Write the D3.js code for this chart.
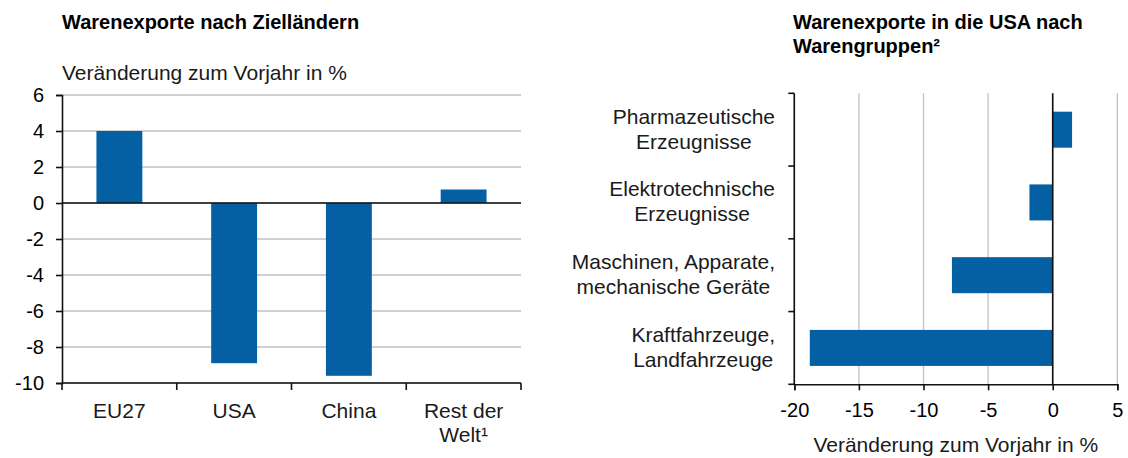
<!DOCTYPE html>
<html>
<head>
<meta charset="utf-8">
<script src="https://cdn.jsdelivr.net/npm/d3@7"></script>
<style>
  body { margin: 0; background: #fff; }
  svg { display: block; font-family: "Liberation Sans", Arial, sans-serif; }
  .title { font-weight: bold; font-size: 20px; fill: #000; }
  .label { font-size: 21px; fill: #1a1a1a; }
  .num { font-size: 20px; fill: #000; }
</style>
</head>
<body>
<div id="chart"></div>
<script>
// left panel: exports by destination
var countries = ['EU27', 'USA', 'China', 'Rest der\nWelt¹'];
var countryChange = [4.0, -8.9, -9.6, 0.75];
var yTicks = [6, 4, 2, 0, -2, -4, -6, -8, -10];

// right panel: exports to the USA by product group
var groups = ['Pharmazeutische\nErzeugnisse', 'Elektrotechnische\nErzeugnisse',
    'Maschinen, Apparate,\nmechanische Geräte', 'Kraftfahrzeuge,\nLandfahrzeuge'];
var groupChange = [1.5, -1.8, -7.8, -18.8];
var xTicks = [-20, -15, -10, -5, 0, 5];

var barColor = '#0460a3';
var gridColor = '#c0c0c0';
var axisColor = '#111';

var svg = d3.select('#chart').append('svg')
    .attr('width', 1128)
    .attr('height', 458);

// ---------- left chart ----------
var left = svg.append('g');
var x1 = d3.scaleBand().domain(countries).range([62, 521]);
var y1 = d3.scaleLinear().domain([-10, 6]).range([383, 95]);

left.append('text').attr('class', 'title').attr('x', 62).attr('y', 29)
    .text('Warenexporte nach Zielländern');
left.append('text').attr('class', 'label').attr('x', 62).attr('y', 80)
    .text('Veränderung zum Vorjahr in %');

left.selectAll('.grid').data(yTicks).enter().append('line')
    .attr('class', 'grid')
    .attr('x1', x1.range()[0]).attr('x2', x1.range()[1])
    .attr('y1', function(d) { return y1(d); })
    .attr('y2', function(d) { return y1(d); })
    .attr('stroke', gridColor).attr('stroke-width', 1.6);

var bw1 = x1.bandwidth() * 0.4;
left.selectAll('.bar').data(countryChange).enter().append('rect')
    .attr('class', 'bar')
    .attr('x', function(d, i) { return x1(countries[i]) + (x1.bandwidth() - bw1) / 2; })
    .attr('width', bw1)
    .attr('y', function(d) { return y1(Math.max(0, d)); })
    .attr('height', function(d) { return Math.abs(y1(d) - y1(0)); })
    .attr('fill', barColor);

// zero line
left.append('line')
    .attr('x1', x1.range()[0]).attr('x2', x1.range()[1])
    .attr('y1', y1(0)).attr('y2', y1(0))
    .attr('stroke', axisColor).attr('stroke-width', 1.6);

var yAxis1 = left.append('g')
    .attr('transform', 'translate(' + x1.range()[0] + ',0)')
    .call(d3.axisLeft(y1).tickValues(yTicks).tickSize(6).tickPadding(12)
        .tickFormat(function(d) { return String(d); }));
yAxis1.select('.domain').attr('stroke', axisColor).attr('stroke-width', 1.6);
yAxis1.selectAll('.tick line').attr('stroke', axisColor).attr('stroke-width', 1.6);
yAxis1.selectAll('.tick text').attr('class', 'num').attr('font-size', null)
    .attr('font-family', null).attr('fill', '#000');

// bottom axis with ticks on the band edges
left.append('line')
    .attr('x1', x1.range()[0]).attr('x2', x1.range()[1])
    .attr('y1', y1(-10)).attr('y2', y1(-10))
    .attr('stroke', axisColor).attr('stroke-width', 1.6);
var edges1 = countries.map(function(c) { return x1(c); }).concat([x1.range()[1]]);
left.selectAll('.edge').data(edges1).enter().append('line')
    .attr('x1', function(d) { return d; }).attr('x2', function(d) { return d; })
    .attr('y1', y1(-10)).attr('y2', y1(-10) + 7)
    .attr('stroke', axisColor).attr('stroke-width', 1.6);

left.selectAll('.cat').data(countries).enter().append('text')
    .attr('class', 'label')
    .attr('text-anchor', 'middle')
    .attr('transform', function(d) {
        return 'translate(' + (x1(d) + x1.bandwidth() / 2) + ',418)';
    })
    .each(function(d) {
        var t = d3.select(this);
        d.split('\n').forEach(function(line, i) {
            t.append('tspan').attr('x', 0).attr('y', i * 23.5).text(line);
        });
    });

// ---------- right chart ----------
var right = svg.append('g');
var x2 = d3.scaleLinear().domain([-20, 5]).range([794.3, 1117.3]);
var y2 = d3.scaleBand().domain(groups).range([93.3, 384.3]);

right.append('text').attr('class', 'title').attr('x', 793)
    .selectAll('tspan').data(['Warenexporte in die USA nach', 'Warengruppen²'])
    .enter().append('tspan')
    .attr('x', 793).attr('y', function(d, i) { return 29 + i * 24; })
    .text(function(d) { return d; });

right.selectAll('.vgrid').data(xTicks).enter().append('line')
    .attr('class', 'vgrid')
    .attr('x1', function(d) { return x2(d); })
    .attr('x2', function(d) { return x2(d); })
    .attr('y1', y2.range()[0]).attr('y2', y2.range()[1])
    .attr('stroke', gridColor).attr('stroke-width', 1.3);

var bh2 = y2.bandwidth() * 0.495;
right.selectAll('.hbar').data(groupChange).enter().append('rect')
    .attr('class', 'hbar')
    .attr('y', function(d, i) { return y2(groups[i]) + (y2.bandwidth() - bh2) / 2; })
    .attr('height', bh2)
    .attr('x', function(d) { return x2(Math.min(0, d)); })
    .attr('width', function(d) { return Math.abs(x2(d) - x2(0)); })
    .attr('fill', barColor);

right.append('line')
    .attr('x1', x2(0)).attr('x2', x2(0))
    .attr('y1', y2.range()[0]).attr('y2', y2.range()[1])
    .attr('stroke', axisColor).attr('stroke-width', 1.6);

// left axis, ticks on band edges
right.append('line')
    .attr('x1', x2(-20)).attr('x2', x2(-20))
    .attr('y1', y2.range()[0]).attr('y2', y2.range()[1])
    .attr('stroke', axisColor).attr('stroke-width', 1.6);
var edges2 = groups.map(function(g) { return y2(g); }).concat([y2.range()[1]]);
right.selectAll('.hedge').data(edges2).enter().append('line')
    .attr('x1', x2(-20) - 6).attr('x2', x2(-20))
    .attr('y1', function(d) { return d; }).attr('y2', function(d) { return d; })
    .attr('stroke', axisColor).attr('stroke-width', 1.6);

var xAxis2 = right.append('g')
    .attr('transform', 'translate(0,' + y2.range()[1] + ')')
    .call(d3.axisBottom(x2).tickValues(xTicks).tickSize(6).tickPadding(13)
        .tickFormat(function(d) { return String(d); }));
xAxis2.select('.domain').attr('stroke', axisColor).attr('stroke-width', 1.6);
xAxis2.selectAll('.tick line').attr('stroke', axisColor).attr('stroke-width', 1.6);
xAxis2.selectAll('.tick text').attr('class', 'num').attr('font-size', null)
    .attr('font-family', null).attr('fill', '#000');

right.append('text').attr('class', 'label')
    .attr('text-anchor', 'middle')
    .attr('x', (x2.range()[0] + x2.range()[1]) / 2)
    .attr('y', 452)
    .text('Veränderung zum Vorjahr in %');

// category labels: block right aligned, lines centred inside it
var labelRight = 775;
right.selectAll('.gcat').data(groups).enter().append('text')
    .attr('class', 'label gcat')
    .attr('text-anchor', 'middle')
    .each(function(d) {
        var t = d3.select(this);
        var lines = d.split('\n');
        var cy = y2(d) + y2.bandwidth() / 2;
        lines.forEach(function(line, i) {
            t.append('tspan').attr('y', cy + 6.5 + (i - (lines.length - 1) / 2) * 25)
                .text(line);
        });
        var maxW = 0;
        t.selectAll('tspan').each(function() {
            maxW = Math.max(maxW, this.getComputedTextLength());
        });
        t.selectAll('tspan').attr('x', labelRight - maxW / 2);
    });
</script>
</body>
</html>
